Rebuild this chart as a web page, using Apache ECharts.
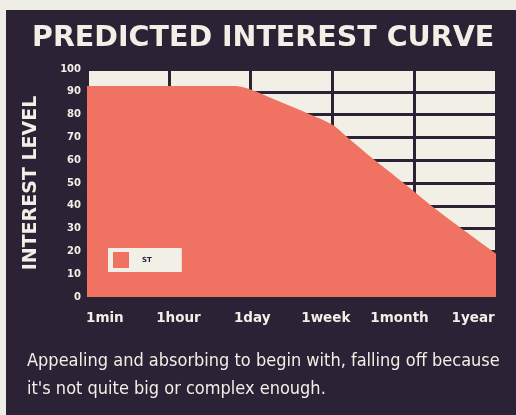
<!DOCTYPE html>
<html>
<head>
<meta charset="utf-8">
<script src="https://cdn.jsdelivr.net/npm/echarts@6/dist/echarts.min.js"></script>
<style>
  html, body { margin: 0; padding: 0; background: #efeee6; }
  #chart { width: 516px; height: 415px; }
</style>
</head>
<body>
<div id="chart"></div>
<script>
// time scale labels under the plot
const timeLabels = ["1min", "1hour", "1day", "1week", "1month", "1year"];
// curve points: position along the time scale (0 = 1min ... 5 = 1year) and interest level
const curveX = [0, 1.8, 2.0, 2.3, 2.7, 3.0, 3.2, 3.5, 3.87, 4.23, 4.6, 5.0];
const curveY = [92.5, 92.5, 91, 86.5, 80.5, 75.5, 69.5, 60.5, 50, 39.5, 29.5, 19];
const seriesName = "ST";

const dark = "#2c2235";
const cream = "#f1efe6";
const salmon = "#ef7262";

const chart = echarts.init(document.getElementById("chart"));
chart.setOption({
  backgroundColor: "#efeee6",
  graphic: [
    { type: "rect", z: -10, shape: { x: 6, y: 10, width: 510, height: 405 }, style: { fill: dark } }
  ],
  title: [
    {
      text: "PREDICTED INTEREST CURVE",
      left: 27, top: 19,
      textStyle: { color: cream, fontFamily: "DejaVu Sans", fontWeight: "bold", fontSize: 28.5 }
    },
    {
      text: "Appealing and absorbing to begin with, falling off because\nit's not quite big or complex enough.",
      left: 22, top: 342,
      textStyle: {
        color: cream, fontFamily: "'Liberation Sans Narrow', 'DejaVu Sans Condensed', sans-serif",
        fontWeight: "normal", fontSize: 18, lineHeight: 28
      }
    }
  ],
  legend: {
    left: 108, top: 248,
    backgroundColor: cream,
    padding: [4, 30, 4, 5],
    itemWidth: 16, itemHeight: 16,
    icon: "rect",
    textStyle: { color: dark, fontFamily: "DejaVu Sans", fontWeight: "bold", fontSize: 7, padding: [0, 0, 0, 8] },
    data: [seriesName]
  },
  grid: [
    { left: 87, right: 20, top: 69, bottom: 118, show: true, backgroundColor: cream, borderWidth: 0 },
    { left: 68, right: 6, top: 69, bottom: 118, show: false }
  ],
  xAxis: [
    {
      type: "value", gridIndex: 0, min: 0, max: 5, interval: 1,
      axisLine: { show: false }, axisTick: { show: false }, axisLabel: { show: false },
      splitLine: { show: true, lineStyle: { color: dark, width: 3 } }
    },
    {
      type: "category", gridIndex: 1, data: timeLabels, boundaryGap: true,
      axisLine: { show: false }, axisTick: { show: false }, splitLine: { show: false },
      axisLabel: { interval: 0, color: cream, fontFamily: "DejaVu Sans", fontWeight: "bold", fontSize: 13.5, margin: 14 }
    }
  ],
  yAxis: [
    {
      type: "value", gridIndex: 0, min: 0, max: 100, interval: 10,
      name: "INTEREST LEVEL", nameLocation: "middle", nameGap: 46, nameRotate: 90,
      nameTextStyle: { color: cream, fontFamily: "DejaVu Sans", fontWeight: "bold", fontSize: 19 },
      axisLine: { show: false }, axisTick: { show: false },
      axisLabel: { color: cream, fontFamily: "DejaVu Sans", fontWeight: "bold", fontSize: 10, margin: 6 },
      splitLine: { show: true, lineStyle: { color: dark, width: 3 } }
    },
    { type: "value", gridIndex: 1, show: false, min: 0, max: 100 }
  ],
  series: [
    {
      name: seriesName,
      type: "line",
      xAxisIndex: 0, yAxisIndex: 0,
      data: curveX.map((x, i) => [x, curveY[i]]),
      smooth: 0.3,
      symbol: "none",
      color: salmon,
      lineStyle: { width: 0 },
      areaStyle: { color: salmon, opacity: 1 }
    }
  ]
});
</script>
</body>
</html>
